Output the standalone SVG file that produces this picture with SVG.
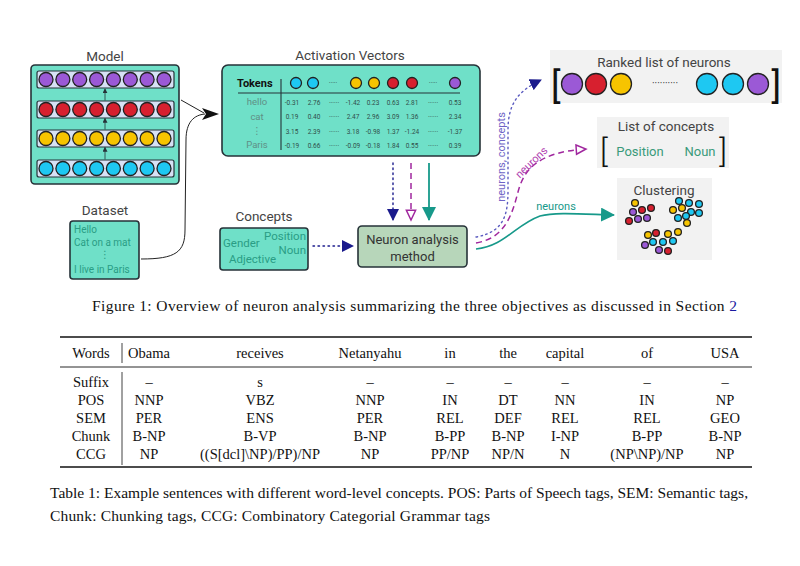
<svg xmlns="http://www.w3.org/2000/svg" width="800" height="566" viewBox="0 0 800 566">
<style>
.ttl{font-family:Roboto,"Liberation Sans",sans-serif;font-size:13.5px;fill:#444;text-anchor:middle}
.box{fill:#6fe0c8;stroke:#263238;stroke-width:1.6}
.row{fill:#d7e1f5;stroke:#263238;stroke-width:1.2}
.cp{fill:#9b59d6;stroke:#222;stroke-width:1.3}
.cr{fill:#d7202f;stroke:#222;stroke-width:1.3}
.cy{fill:#f7c400;stroke:#222;stroke-width:1.3}
.cc{fill:#1ec8f2;stroke:#222;stroke-width:1.3}
.dt{font-family:Roboto,"DejaVu Sans",sans-serif;font-size:10px;fill:#2a9d85}
.ct{font-family:Roboto,"DejaVu Sans",sans-serif;font-size:11.5px;fill:#2a9d85}
.tk{font-family:Roboto,"DejaVu Sans",sans-serif;font-size:9.5px;fill:#5f8f86;text-anchor:middle}
.num{font-family:Roboto,"Liberation Sans",sans-serif;font-size:6.5px;fill:#2f4f4a;text-anchor:middle}
.gray{fill:#f2f2f2}
.tb{font-family:"Liberation Serif",serif;font-size:14.5px;fill:#111;text-anchor:middle}
.cap{font-family:"Liberation Serif",serif;font-size:15.5px;fill:#111}
.br{font-family:Roboto,"DejaVu Sans",sans-serif;fill:#111}
</style>
<defs>
<marker id="mNavy" viewBox="0 0 12 12" refX="11" refY="6" markerWidth="12" markerHeight="12" orient="auto" markerUnits="userSpaceOnUse"><path d="M0,0 L12,6 L0,12 Z" fill="#1a1a8c"/></marker>
<marker id="mPur" viewBox="0 0 14 14" refX="12" refY="7" markerWidth="13" markerHeight="13" orient="auto" markerUnits="userSpaceOnUse"><path d="M1.5,2 L12,7 L1.5,12 Z" fill="#fff" stroke="#a0279e" stroke-width="1.6"/></marker>
<marker id="mTeal" viewBox="0 0 14 14" refX="13" refY="7" markerWidth="14" markerHeight="14" orient="auto" markerUnits="userSpaceOnUse"><path d="M0,0 L14,7 L0,14 Z" fill="#17998a"/></marker>
<marker id="mSm" viewBox="0 0 6 6" refX="5" refY="3" markerWidth="5" markerHeight="5" orient="auto" markerUnits="userSpaceOnUse"><path d="M0,0 L6,3 L0,6 Z" fill="#263238"/></marker>
</defs>
<rect width="800" height="566" fill="#ffffff"/>

<g id="model">
<text class="ttl" x="105" y="61">Model</text>
<rect class="box" x="31" y="65" width="148" height="119" rx="4" stroke-width="2.2"/>
<rect class="row" x="37" y="71" width="137" height="17" rx="2"/>
<rect class="row" x="37" y="101" width="137" height="17" rx="2"/>
<rect class="row" x="37" y="130" width="137" height="17" rx="2"/>
<rect class="row" x="37" y="160" width="137" height="17" rx="2"/>
<g class="cp"><circle cx="46" cy="79.5" r="7"/><circle cx="62.9" cy="79.5" r="7"/><circle cx="79.7" cy="79.5" r="7"/><circle cx="96.6" cy="79.5" r="7"/><circle cx="113.4" cy="79.5" r="7"/><circle cx="130.3" cy="79.5" r="7"/><circle cx="147.1" cy="79.5" r="7"/><circle cx="164" cy="79.5" r="7"/></g>
<g class="cr"><circle cx="46" cy="109.5" r="7"/><circle cx="62.9" cy="109.5" r="7"/><circle cx="79.7" cy="109.5" r="7"/><circle cx="96.6" cy="109.5" r="7"/><circle cx="113.4" cy="109.5" r="7"/><circle cx="130.3" cy="109.5" r="7"/><circle cx="147.1" cy="109.5" r="7"/><circle cx="164" cy="109.5" r="7"/></g>
<g class="cy"><circle cx="46" cy="138.5" r="7"/><circle cx="62.9" cy="138.5" r="7"/><circle cx="79.7" cy="138.5" r="7"/><circle cx="96.6" cy="138.5" r="7"/><circle cx="113.4" cy="138.5" r="7"/><circle cx="130.3" cy="138.5" r="7"/><circle cx="147.1" cy="138.5" r="7"/><circle cx="164" cy="138.5" r="7"/></g>
<g class="cc"><circle cx="46" cy="168.5" r="7"/><circle cx="62.9" cy="168.5" r="7"/><circle cx="79.7" cy="168.5" r="7"/><circle cx="96.6" cy="168.5" r="7"/><circle cx="113.4" cy="168.5" r="7"/><circle cx="130.3" cy="168.5" r="7"/><circle cx="147.1" cy="168.5" r="7"/><circle cx="164" cy="168.5" r="7"/></g>
<g stroke="#263238" stroke-width="0.8" marker-end="url(#mSm)"><line x1="105" y1="100.5" x2="105" y2="89"/><line x1="105" y1="129.5" x2="105" y2="118.5"/><line x1="105" y1="159.5" x2="105" y2="147.5"/></g>
</g>

<g id="dataset">
<text class="ttl" x="105" y="215">Dataset</text>
<rect class="box" x="70" y="221" width="69" height="58" rx="3" stroke-width="1.3"/>
<text class="dt" x="74" y="233">Hello</text>
<text class="dt" x="74" y="246">Cat on a mat</text>
<text class="dt" x="105" y="258" text-anchor="middle">⋮</text>
<text class="dt" x="74" y="273">I live in Paris</text>
</g>

<g id="activation">
<text class="ttl" x="350" y="60">Activation Vectors</text>
<rect class="box" x="222" y="65" width="258" height="91" rx="6" stroke-width="2"/>
<text x="237" y="87" font-family="Roboto,'Liberation Sans',sans-serif" font-size="11" font-weight="bold" fill="#111">Tokens</text>
<line x1="281" y1="79" x2="281" y2="150" stroke="#263238" stroke-width="1.1"/>
<line x1="238" y1="93" x2="460" y2="93" stroke="#263238" stroke-width="1.1"/>
<g stroke-width="1.2">
<circle class="cc" cx="296" cy="83" r="5.5"/><circle class="cc" cx="313" cy="83" r="5.5"/>
<circle class="cy" cx="356" cy="83" r="5.5"/><circle class="cy" cx="374" cy="83" r="5.5"/>
<circle class="cr" cx="393" cy="83" r="5.5"/><circle class="cr" cx="412" cy="83" r="5.5"/>
<circle class="cp" cx="455" cy="83" r="5.5"/>
</g>
<text class="num" x="333" y="85">·····</text><text class="num" x="433" y="85">·····</text>
<text class="tk" x="257" y="105">hello</text>
<text class="tk" x="257" y="120">cat</text>
<text class="tk" x="257" y="134">⋮</text>
<text class="tk" x="257" y="148">Paris</text>
<g class="num">
<text y="104.5"><tspan x="292">-0.31</tspan><tspan x="314">2.76</tspan><tspan x="334">······</tspan><tspan x="353">-1.42</tspan><tspan x="373">0.23</tspan><tspan x="393">0.63</tspan><tspan x="412">2.81</tspan><tspan x="433">······</tspan><tspan x="455">0.53</tspan></text>
<text y="119"><tspan x="292">0.19</tspan><tspan x="314">0.40</tspan><tspan x="334">······</tspan><tspan x="353">2.47</tspan><tspan x="373">2.96</tspan><tspan x="393">3.09</tspan><tspan x="412">1.36</tspan><tspan x="433">······</tspan><tspan x="455">2.34</tspan></text>
<text y="133.5"><tspan x="292">3.15</tspan><tspan x="314">2.39</tspan><tspan x="334">······</tspan><tspan x="353">3.18</tspan><tspan x="373">-0.98</tspan><tspan x="393">1.37</tspan><tspan x="412">-1.24</tspan><tspan x="433">······</tspan><tspan x="455">-1.37</tspan></text>
<text y="148"><tspan x="292">-0.19</tspan><tspan x="314">0.66</tspan><tspan x="334">······</tspan><tspan x="353">-0.09</tspan><tspan x="373">-0.18</tspan><tspan x="393">1.84</tspan><tspan x="412">0.55</tspan><tspan x="433">······</tspan><tspan x="455">0.39</tspan></text>
</g>
</g>

<g id="concepts">
<text class="ttl" x="264" y="221">Concepts</text>
<rect class="box" x="220" y="228" width="88" height="42" rx="3" stroke-width="1.3"/>
<text class="ct" x="306" y="240" text-anchor="end">Position</text>
<text class="ct" x="223" y="247">Gender</text>
<text class="ct" x="306" y="254" text-anchor="end">Noun</text>
<text class="ct" x="229" y="263">Adjective</text>
</g>

<g id="method">
<rect x="358" y="226" width="109" height="41" rx="4" fill="#b7d6ba" stroke="#263238" stroke-width="1.6"/>
<text x="412.5" y="244" font-family="Roboto,'Liberation Sans',sans-serif" font-size="13" fill="#333" text-anchor="middle">Neuron analysis</text>
<text x="412.5" y="261" font-family="Roboto,'Liberation Sans',sans-serif" font-size="13" fill="#333" text-anchor="middle">method</text>
</g>

<g id="ranked">
<rect class="gray" x="550" y="50" width="232" height="53"/>
<text class="ttl" x="664" y="67">Ranked list of neurons</text>
<text class="br" x="551" y="98" font-size="36">[</text>
<text class="br" x="781" y="98" font-size="36" text-anchor="end">]</text>
<g stroke-width="2.6">
<circle class="cp" cx="572" cy="84" r="10.5"/><circle class="cr" cx="596" cy="84" r="10.5"/><circle class="cy" cx="621" cy="84" r="10.5"/>
<circle class="cc" cx="707" cy="84" r="10.5"/><circle class="cc" cx="733" cy="84" r="10.5"/><circle class="cp" cx="758" cy="84" r="10.5"/>
</g>
<text x="665" y="87" font-family="Roboto,sans-serif" font-size="10" fill="#333" text-anchor="middle">··········</text>
</g>

<g id="conceptlist">
<rect class="gray" x="597" y="117" width="132" height="51"/>
<text class="ttl" x="666" y="131">List of concepts</text>
<text class="br" x="600" y="162" font-size="32" font-weight="300">[</text>
<text class="br" x="727" y="162" font-size="32" font-weight="300" text-anchor="end">]</text>
<text x="640" y="156" font-family="Roboto,'Liberation Sans',sans-serif" font-size="13" fill="#3a9a7a" text-anchor="middle">Position</text>
<text x="700" y="156" font-family="Roboto,'Liberation Sans',sans-serif" font-size="13" fill="#3a9a7a" text-anchor="middle">Noun</text>
</g>

<g id="clustering">
<rect class="gray" x="617" y="178" width="95" height="82"/>
<text class="ttl" x="664" y="195" font-size="13" fill="#555">Clustering</text>
<g stroke-width="1">
<circle class="cy" cx="635" cy="203" r="3.4"/><circle class="cp" cx="633" cy="212" r="3.4"/><circle class="cr" cx="642" cy="210" r="3.4"/><circle class="cr" cx="651" cy="208" r="3.4"/><circle class="cr" cx="629" cy="221" r="3.4"/><circle class="cp" cx="638" cy="219" r="3.4"/><circle class="cp" cx="647" cy="218" r="3.4"/>
<circle class="cc" cx="679" cy="201" r="3.4"/><circle class="cc" cx="689" cy="203" r="3.4"/><circle class="cc" cx="699" cy="204" r="3.4"/><circle class="cy" cx="673" cy="210" r="3.4"/><circle class="cy" cx="682" cy="208" r="3.4"/><circle class="cc" cx="691" cy="212" r="3.4"/><circle class="cc" cx="699" cy="213" r="3.4"/><circle class="cc" cx="678" cy="218" r="3.4"/><circle class="cc" cx="686" cy="216" r="3.4"/><circle class="cy" cx="687" cy="223" r="3.4"/>
<circle class="cy" cx="648" cy="235" r="3.4"/><circle class="cr" cx="656" cy="233" r="3.4"/><circle class="cy" cx="668" cy="234" r="3.4"/><circle class="cy" cx="678" cy="232" r="3.4"/><circle class="cp" cx="645" cy="245" r="3.4"/><circle class="cc" cx="653" cy="242" r="3.4"/><circle class="cc" cx="663" cy="242" r="3.4"/><circle class="cc" cx="673" cy="241" r="3.4"/><circle class="cp" cx="659" cy="250" r="3.4"/><circle class="cr" cx="668" cy="251" r="3.4"/>
</g>
</g>

<g id="connectors" fill="none">
<path d="M181,100 L204,113" stroke="#222" stroke-width="1"/>
<path d="M141,259 C176,259 185,252 185,230 L186,140 C186,122 194,115 205,114" stroke="#222" stroke-width="1"/>
<path d="M202,108 L219,114 L202,120 L206,114 Z" fill="#111"/>
<line x1="313" y1="246" x2="353" y2="246" stroke="#1a1a8c" stroke-width="1.4" stroke-dasharray="1.5 3.5" stroke-linecap="round" marker-end="url(#mNavy)"/>
<line x1="393" y1="163" x2="393" y2="220" stroke="#1a1a8c" stroke-width="1.4" stroke-dasharray="1.5 3.5" stroke-linecap="round" marker-end="url(#mNavy)"/>
<line x1="411" y1="163" x2="411" y2="220" stroke="#a0279e" stroke-width="1.5" stroke-dasharray="6 4" marker-end="url(#mPur)"/>
<line x1="429" y1="163" x2="429" y2="220" stroke="#17998a" stroke-width="1.8" marker-end="url(#mTeal)"/>
<path d="M476,237 C504,232 508,215 508,190 L508,130 C508,102 520,90 541,80" stroke="#5b5bc0" stroke-width="1.4" stroke-dasharray="1.5 3.5" stroke-linecap="round" marker-end="url(#mNavy)"/>
<path d="M476,243 C505,238 512,215 518,192 C524,168 540,152 586,149" stroke="#a0279e" stroke-width="1.5" stroke-dasharray="6 4" marker-end="url(#mPur)"/>
<path d="M476,249 C505,246 515,225 540,216 C555,212 580,214 614,215" stroke="#17998a" stroke-width="1.6" marker-end="url(#mTeal)"/>
<text x="505" y="157" transform="rotate(-90 505 157)" font-family="Roboto,'Liberation Sans',sans-serif" font-size="11" fill="#6e63c6" text-anchor="middle">neurons, concepts</text>
<text x="534" y="165" transform="rotate(-44 534 165)" font-family="Roboto,'Liberation Sans',sans-serif" font-size="11" fill="#b040b0" text-anchor="middle">neurons</text>
<text x="556" y="210" font-family="Roboto,'Liberation Sans',sans-serif" font-size="11" fill="#17998a" text-anchor="middle">neurons</text>
</g>

<text class="cap" x="92" y="311" textLength="645" lengthAdjust="spacing">Figure 1: Overview of neuron analysis summarizing the three objectives as discussed in Section <tspan fill="#1a1aa0">2</tspan></text>

<g id="table">
<line x1="60" y1="337" x2="752" y2="337" stroke="#111" stroke-width="1.5"/>
<line x1="60" y1="367" x2="752" y2="367" stroke="#111" stroke-width="0.9"/>
<line x1="60" y1="467" x2="752" y2="467" stroke="#111" stroke-width="1.5"/>
<line x1="122" y1="343" x2="122" y2="363" stroke="#111" stroke-width="0.8"/>
<line x1="122" y1="372" x2="122" y2="465" stroke="#111" stroke-width="0.8"/>
<g class="tb">
<text y="358"><tspan x="91">Words</tspan><tspan x="149">Obama</tspan><tspan x="260">receives</tspan><tspan x="370">Netanyahu</tspan><tspan x="450">in</tspan><tspan x="508">the</tspan><tspan x="565">capital</tspan><tspan x="647">of</tspan><tspan x="725">USA</tspan></text>
<text y="387"><tspan x="91">Suffix</tspan><tspan x="149">–</tspan><tspan x="260">s</tspan><tspan x="370">–</tspan><tspan x="450">–</tspan><tspan x="508">–</tspan><tspan x="565">–</tspan><tspan x="647">–</tspan><tspan x="725">–</tspan></text>
<text y="405"><tspan x="91">POS</tspan><tspan x="149">NNP</tspan><tspan x="260">VBZ</tspan><tspan x="370">NNP</tspan><tspan x="450">IN</tspan><tspan x="508">DT</tspan><tspan x="565">NN</tspan><tspan x="647">IN</tspan><tspan x="725">NP</tspan></text>
<text y="423"><tspan x="91">SEM</tspan><tspan x="149">PER</tspan><tspan x="260">ENS</tspan><tspan x="370">PER</tspan><tspan x="450">REL</tspan><tspan x="508">DEF</tspan><tspan x="565">REL</tspan><tspan x="647">REL</tspan><tspan x="725">GEO</tspan></text>
<text y="441"><tspan x="91">Chunk</tspan><tspan x="149">B-NP</tspan><tspan x="260">B-VP</tspan><tspan x="370">B-NP</tspan><tspan x="450">B-PP</tspan><tspan x="508">B-NP</tspan><tspan x="565">I-NP</tspan><tspan x="647">B-PP</tspan><tspan x="725">B-NP</tspan></text>
<text y="459"><tspan x="91">CCG</tspan><tspan x="149">NP</tspan><tspan x="260">((S[dcl]\NP)/PP)/NP</tspan><tspan x="370">NP</tspan><tspan x="450">PP/NP</tspan><tspan x="508">NP/N</tspan><tspan x="565">N</tspan><tspan x="647">(NP\NP)/NP</tspan><tspan x="725">NP</tspan></text>
</g>
</g>

<text class="cap" x="50" y="498" textLength="698" lengthAdjust="spacing">Table 1: Example sentences with different word-level concepts. POS: Parts of Speech tags, SEM: Semantic tags,</text>
<text class="cap" x="50" y="521" textLength="440" lengthAdjust="spacing">Chunk: Chunking tags, CCG: Combinatory Categorial Grammar tags</text>
</svg>
